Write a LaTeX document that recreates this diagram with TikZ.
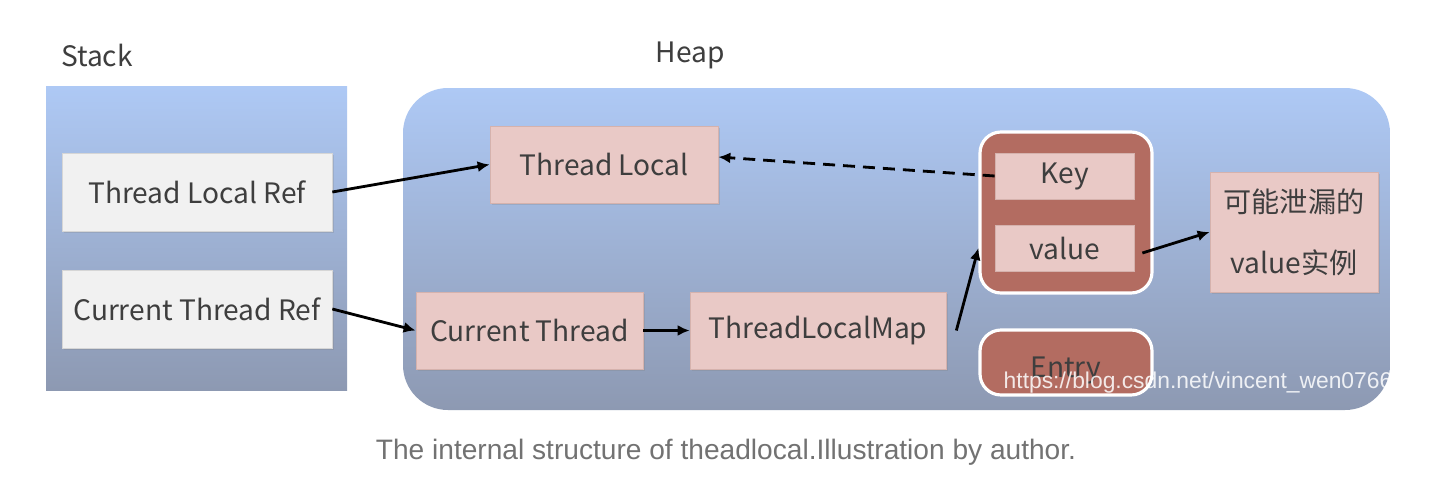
\documentclass[tikz,border=0pt]{standalone}
\usepackage{fontspec}
\newfontfamily\cjkfont{Noto Sans CJK SC}
\newfontfamily\capfont{Liberation Sans}
\usetikzlibrary{arrows.meta, positioning, calc, shadows}
\definecolor{zonetop}{HTML}{AEC9F5}
\definecolor{zonebot}{HTML}{8D99B2}
\definecolor{refgrey}{HTML}{F1F1F1}
\definecolor{refline}{HTML}{D6D6D6}
\definecolor{objpink}{HTML}{E9C9C6}
\definecolor{objline}{HTML}{D5B2AD}
\definecolor{entryred}{HTML}{B36C61}
\definecolor{ink}{HTML}{3E3E3E}
\definecolor{mute}{HTML}{727272}
\newcommand{\diagfont}{\cjkfont\fontsize{16}{19}\selectfont}
\tikzset{
  zone/.style      = {rectangle, draw=none, top color=zonetop, bottom color=zonebot,
                      inner sep=0pt},
  zonelabel/.style = {font=\diagfont, text=ink},
  refbox/.style    = {rectangle, draw=refline, line width=0.4pt, fill=refgrey,
                      minimum width=5.4cm, minimum height=1.56cm, inner sep=0pt,
                      font=\diagfont, text=ink,
                      drop shadow={opacity=0.25, shadow xshift=0.4mm, shadow yshift=-0.4mm}},
  objbox/.style    = {rectangle, draw=objline, line width=0.4pt, fill=objpink,
                      minimum height=1.54cm, inner sep=0pt, font=\diagfont, text=ink,
                      drop shadow={opacity=0.25, shadow xshift=0.4mm, shadow yshift=-0.4mm}},
  slot/.style      = {rectangle, draw=objline, line width=0.4pt, fill=objpink,
                      minimum width=2.78cm, minimum height=0.92cm, inner sep=0pt,
                      font=\diagfont, text=ink},
  entrybox/.style  = {rectangle, rounded corners=0.42cm, draw=white, line width=1.8pt,
                      fill=entryred, minimum width=3.44cm, inner sep=0pt},
  flow/.style      = {-{Latex[length=2.4mm, width=2.2mm]}, line width=1.6pt, draw=black},
  weakflow/.style  = {flow, dash pattern=on 2.4mm off 1.6mm},
}

\begin{document}
\begin{tikzpicture}

\path[use as bounding box, fill=white] (0,0) rectangle (29.04,-9.84);

% ---- Zones ----
\node[zonelabel] (stacklbl) at (1.94,-1.10) {Stack};
\node[zone, minimum width=6.02cm, minimum height=6.08cm] (stack) at (3.93,-4.76) {};
\node[zonelabel] (heaplbl) at (13.80,-1.10) {Heap};
\node[zone, rounded corners=0.9cm, minimum width=19.74cm, minimum height=6.44cm] (heap) at (17.93,-4.98) {};

% ---- Stack references ----
\node[refbox] (tlref) at (3.94,-3.84) {Thread Local Ref};
\node[refbox] (ctref) at (3.94,-6.18) {Current Thread Ref};

% ---- Heap objects ----
\node[objbox, minimum width=4.56cm] (tl)  at (12.08,-3.29) {Thread Local};
\node[objbox, minimum width=4.54cm] (ct)  at (10.59,-6.61) {Current Thread};
\node[objbox, minimum width=5.12cm] (tlm) at (16.36,-6.61) {ThreadLocalMap};

% ---- Entry with key / value ----
\node[entrybox, minimum height=3.22cm] (entries) at (21.32,-4.25) {};
\node[slot] (key) at (21.29,-3.52) {Key};
\node[slot] (val) at (21.29,-4.96) {value};
\node[entrybox, minimum height=1.30cm,
      label={[font=\diagfont, text=ink, yshift=-1.6mm]center:Entry}] (entry) at (21.32,-7.25) {};

\node[objbox, minimum width=3.36cm, minimum height=2.40cm, align=center] (leak) at (25.88,-4.64)
  {可能泄漏的\\[5.5mm]value实例};

% ===== Connectors =====
\draw[flow] (tlref.east) -- (tl.west);
\draw[flow] (ctref.east) -- (ct.west);
\draw[flow] (ct) -- (tlm);
\draw[flow] ([xshift=2mm]tlm.east) -- (entries.west |- val);
\draw[weakflow] (key.west) -- ([yshift=1.5mm]tl.east);
\draw[flow] ([xshift=1.6mm, yshift=-1mm]val.east) -- (leak.west);

% ---- watermark and caption ----
\node[font=\capfont\fontsize{13}{15}\selectfont, text=white, opacity=0.85] (mark) at (23.96,-7.66)
  {https://blog.csdn.net/vincent\_wen0766};
\node[font=\capfont\fontsize{16}{18}\selectfont, text=mute] (caption) at (14.52,-9.04)
  {The internal structure of theadlocal.Illustration by author.};

\end{tikzpicture}
\end{document}
